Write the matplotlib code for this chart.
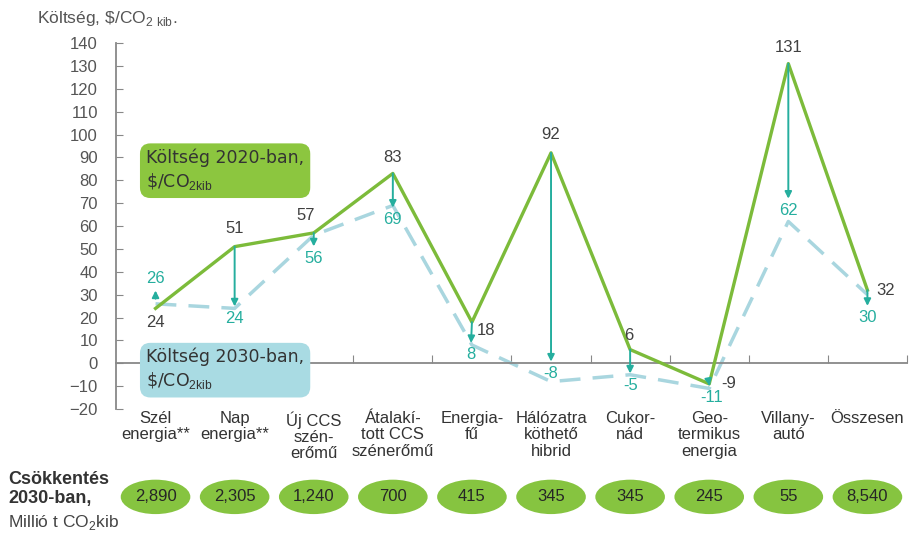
import matplotlib.pyplot as plt
import matplotlib.transforms as mtransforms
from matplotlib.patches import Ellipse

plt.rcParams['font.family'] = ['Liberation Sans', 'DejaVu Sans']
plt.rcParams['mathtext.fontset'] = 'custom'
plt.rcParams['mathtext.rm'] = 'Liberation Sans'

categories = ["Szél\nenergia**", "Nap\nenergia**", "Új CCS\nszén-\nerőmű",
              "Átalakí-\ntott CCS\nszénerőmű", "Energia-\nfű", "Hálózatra\nköthető\nhibrid",
              "Cukor-\nnád", "Geo-\ntermikus\nenergia", "Villany-\nautó", "Összesen"]
cost_2020 = [24, 51, 57, 83, 18, 92, 6, -9, 131, 32]
cost_2030 = [26, 24, 56, 69, 8, -8, -5, -11, 62, 30]
reduction_2030 = ["2,890", "2,305", "1,240", "700", "415", "345", "345", "245", "55", "8,540"]
y_ticks = list(range(-20, 141, 10))

GREEN = '#7cbb3a'
DASH = '#a9d6df'
TEAL = '#25ae9e'
DARK = '#404040'

# label placement in points
lab20_off = [(0, -10), (0, 13), (-6, 12.5), (0, 11.5), (10, -6),
             (0, 13), (-1, 10), (14, 0), (0, 11.5), (13, 0)]
lab30_off = [(0, 18), (0, -7), (0, -16.5), (0, -10), (-1, -7),
             (0, 6), (0, -7.5), (2, -6.5), (0, 8), (0, -16.5)]
arrow_gap = [7, 0, 0, 0, 0, 0, 0, 0, 0, 0]

fig = plt.figure(figsize=(9.22, 5.34), dpi=100)
ax = fig.add_axes([0.1258, 0.234, 0.8579, 0.6854])

x = list(range(len(categories)))
ax.plot(x, cost_2030, color=DASH, lw=2.5, dashes=(6, 3.5), zorder=2)
ax.plot(x, cost_2020, color=GREEN, lw=2.4, zorder=3)

for i, (a, b) in enumerate(zip(cost_2020, cost_2030)):
    dx, dy = lab20_off[i]
    ax.annotate(str(a), xy=(i, a), xytext=(dx, dy), textcoords='offset points',
                ha='center', va='center', fontsize=12, color=DARK, zorder=5)
    dx, dy = lab30_off[i]
    tr = ax.transData + mtransforms.ScaledTranslation(dx / 72, dy / 72, fig.dpi_scale_trans)
    ax.annotate(str(b), xy=(i, a), xytext=(i, b), textcoords=tr,
                ha='center', va='center', fontsize=12, color=TEAL, zorder=5,
                arrowprops=dict(arrowstyle='<|-', color=TEAL, lw=1.4, mutation_scale=10,
                                shrinkA=1, shrinkB=arrow_gap[i]))

ax.set_xlim(-0.5, len(categories) - 0.5)
ax.set_ylim(-20, 140)
ax.set_yticks(y_ticks)
ax.tick_params(axis='y', direction='in', length=5, pad=13, labelsize=12,
               labelcolor='#555555', color='#888888')
ax.set_xticks([i + 0.5 for i in x])
ax.set_xticklabels([])
ax.tick_params(axis='x', direction='in', length=6, color='#888888')
ax.spines['bottom'].set_position(('data', 0))
for s in ['bottom', 'left']:
    ax.spines[s].set_color('#888888')
    ax.spines[s].set_linewidth(1.3)
ax.spines['top'].set_visible(False)
ax.spines['right'].set_visible(False)

btr = mtransforms.blended_transform_factory(ax.transData, ax.transAxes)
for i, name in enumerate(categories):
    ax.text(i, -0.006, name, transform=btr, ha='center', va='top', fontsize=12,
            color='#333333', linespacing=1.1)
    ax.add_patch(Ellipse((i, -0.24), 0.88, 0.094, transform=btr, facecolor='#86c440',
                         edgecolor='none', clip_on=False))
    ax.text(i, -0.24, reduction_2030[i], transform=btr, ha='center', va='center',
            fontsize=12, color='#262626')

# series boxes
ax.text(0.038, 0.712, "Költség 2020-ban,\n\\$/CO$_{\\rm 2kib}$", transform=ax.transAxes,
        ha='left', va='top', fontsize=12.5, family=['DejaVu Sans'], color='#333333',
        linespacing=1.25,
        bbox=dict(boxstyle='round,pad=0.35,rounding_size=0.6', fc='#8cc63f', ec='none'))
ax.text(0.038, 0.167, "Költség 2030-ban,\n\\$/CO$_{\\rm 2kib}$", transform=ax.transAxes,
        ha='left', va='top', fontsize=12.5, family=['DejaVu Sans'], color='#333333',
        linespacing=1.25,
        bbox=dict(boxstyle='round,pad=0.35,rounding_size=0.6', fc='#a9dbe3', ec='none'))

fig.text(0.04, 0.965, "Költség, \\$/CO$_{\\rm 2\\ kib}$.", ha='left', va='center',
         fontsize=12.5, color='#555555')
fig.text(0.009, 0.084, "Csökkentés\n2030-ban,", ha='left', va='center', fontsize=13,
         fontweight='bold', color='#333333', linespacing=1.2)
fig.text(0.009, 0.022, "Millió t CO$_{\\rm 2}$kib", ha='left', va='center', fontsize=12.5,
         color='#444444')

fig.savefig('out.png', dpi=100)
